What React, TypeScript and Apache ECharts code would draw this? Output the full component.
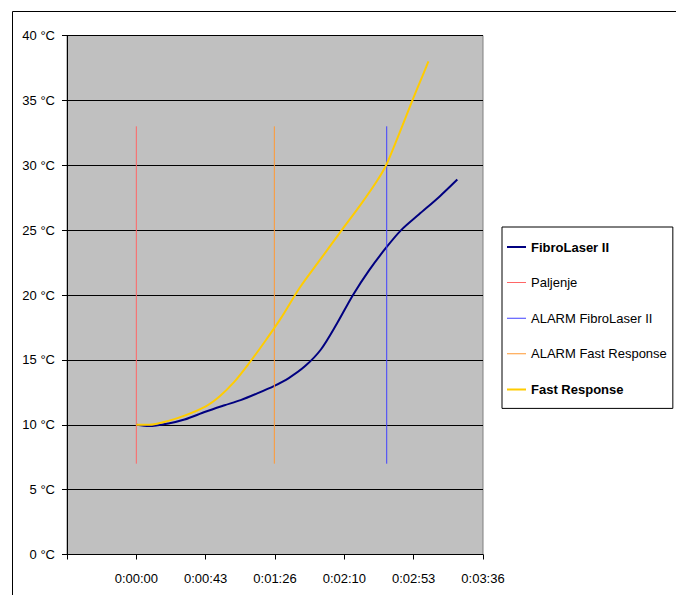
import React, { useEffect, useRef } from "react";
import * as echarts from "echarts";

// time in seconds, temperature in °C
const fibroTimes = [0, 8, 20, 30, 43, 55, 65, 75, 86, 95, 105, 115, 125, 135, 145, 156, 165, 176, 189, 200];
const fibroValues = [10.0, 9.9, 10.1, 10.4, 11.0, 11.5, 11.9, 12.4, 13.0, 13.6, 14.5, 15.8, 17.8, 20.0, 21.9, 23.7, 25.0, 26.2, 27.6, 28.9];

const fastTimes = [0, 8, 20, 30, 43, 52, 61, 70, 80, 90, 102, 115, 128, 140, 150, 156, 164, 172, 178, 182];
const fastValues = [10.0, 10.0, 10.3, 10.7, 11.4, 12.2, 13.3, 14.7, 16.4, 18.2, 20.6, 22.8, 25.0, 27.0, 28.8, 30.1, 32.5, 35.0, 36.8, 38.0];

const paljenjeTime = 0;
const alarmFibroTime = 156;
const alarmFastTime = 86;
const markerRange = [7, 33];

const seriesNames = ["FibroLaser II", "Paljenje", "ALARM FibroLaser II", "ALARM Fast Response", "Fast Response"];

const xMin = -43.2;
const xMax = 216;
const xInterval = 43.2;
const yMin = 0;
const yMax = 40;
const yInterval = 5;

function fmtTime(v: number): string {
  if (v < -0.001) return "";
  const s = Math.round(v);
  const h = Math.floor(s / 3600);
  const m = Math.floor((s % 3600) / 60);
  const sec = s % 60;
  return `${h}:${String(m).padStart(2, "0")}:${String(sec).padStart(2, "0")}`;
}

const zip = (t: number[], v: number[]) => t.map((x, i) => [x, v[i]]);
const vline = (t: number) => markerRange.map((y) => [t, y]);

// legend line icons (box 19x14, with invisible corner specks to keep the box)
const iconThick = "path://M0,0L0.01,0L0.01,0.01L0,0.01Z M0,6L19,6L19,8L0,8Z M18.99,13.99L19,13.99L19,14L18.99,14Z";
const iconThin = "path://M0,0L0.01,0L0.01,0.01L0,0.01Z M0,6.5L19,6.5L19,7.5L0,7.5Z M18.99,13.99L19,13.99L19,14L18.99,14Z";

export default function App() {
  const ref = useRef<HTMLDivElement>(null);
  useEffect(() => {
    document.body.style.margin = "0";
    if (!ref.current) return;
    const chart = echarts.init(ref.current, null, { renderer: "svg" });
    const font = "'Liberation Sans', Arial, sans-serif";
    chart.setOption({
      animation: false,
      textStyle: { fontFamily: font, fontSize: 13, color: "#000" },
      graphic: [
        {
          type: "rect",
          shape: { x: 12.5, y: 11.5, width: 700, height: 700 },
          style: { fill: "none", stroke: "#000", lineWidth: 1 },
          silent: true,
        },
      ],
      grid: {
        left: 67,
        right: 193,
        top: 35.5,
        bottom: 40.5,
        show: true,
        backgroundColor: "#C0C0C0",
        borderColor: "#808080",
        borderWidth: 1,
        outerBoundsMode: "none",
      },
      legend: {
        orient: "vertical",
        left: 502,
        top: 227,
        padding: [13, 6, 12, 5],
        itemGap: 21.6,
        itemWidth: 19,
        itemHeight: 14,
        borderColor: "#000",
        borderWidth: 1,
        textStyle: { fontFamily: font, fontSize: 13, color: "#000" },
        data: [
          { name: seriesNames[0], icon: iconThick, textStyle: { fontWeight: "bold" } },
          { name: seriesNames[1], icon: iconThin },
          { name: seriesNames[2], icon: iconThin },
          { name: seriesNames[3], icon: iconThin },
          { name: seriesNames[4], icon: iconThick, textStyle: { fontWeight: "bold" } },
        ],
      },
      xAxis: {
        type: "value",
        min: xMin,
        max: xMax,
        interval: xInterval,
        axisLine: { show: true, onZero: false, lineStyle: { color: "#000", width: 1 } },
        axisTick: { show: true, length: 5, lineStyle: { color: "#000" } },
        splitLine: { show: false },
        axisLabel: {
          margin: 17,
          fontFamily: font,
          fontSize: 13,
          color: "#000",
          formatter: (v: number) => fmtTime(v),
          showMinLabel: true,
          showMaxLabel: true,
        },
      },
      yAxis: {
        type: "value",
        min: yMin,
        max: yMax,
        interval: yInterval,
        axisLine: { show: true, onZero: false, lineStyle: { color: "#000", width: 1 } },
        axisTick: { show: true, length: 5, lineStyle: { color: "#000" } },
        splitLine: { show: true, lineStyle: { color: "#000", width: 1 } },
        axisLabel: {
          margin: 12,
          fontFamily: font,
          fontSize: 13,
          color: "#000",
          formatter: (v: number) => `${v} °C`,
        },
      },
      series: [
        {
          name: seriesNames[0],
          type: "line",
          data: zip(fibroTimes, fibroValues),
          smooth: 0.3,
          symbol: "none",
          lineStyle: { color: "#000080", width: 2 },
          itemStyle: { color: "#000080" },
        },
        {
          name: seriesNames[1],
          type: "line",
          data: vline(paljenjeTime),
          symbol: "none",
          lineStyle: { color: "#FF6666", width: 1 },
          itemStyle: { color: "#FF6666" },
        },
        {
          name: seriesNames[2],
          type: "line",
          data: vline(alarmFibroTime),
          symbol: "none",
          lineStyle: { color: "#4040FF", width: 1 },
          itemStyle: { color: "#4040FF" },
        },
        {
          name: seriesNames[3],
          type: "line",
          data: vline(alarmFastTime),
          symbol: "none",
          lineStyle: { color: "#FF9933", width: 1 },
          itemStyle: { color: "#FF9933" },
        },
        {
          name: seriesNames[4],
          type: "line",
          data: zip(fastTimes, fastValues),
          smooth: 0.3,
          symbol: "none",
          lineStyle: { color: "#FFCC00", width: 2 },
          itemStyle: { color: "#FFCC00" },
        },
      ],
    });
    return () => chart.dispose();
  }, []);
  return <div ref={ref} style={{ width: 676, height: 595 }} />;
}
